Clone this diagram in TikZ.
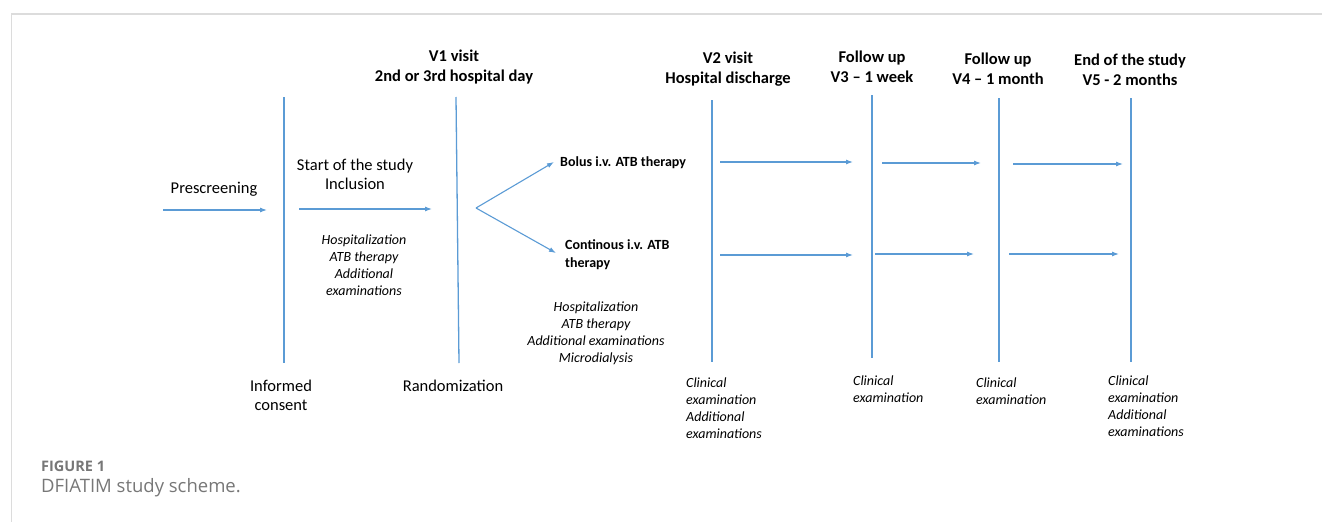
\documentclass[tikz,border=0pt]{standalone}
\usepackage{fontspec}
\setmainfont{Carlito}
\newfontfamily\capfont{Open Sans}
\usetikzlibrary{arrows.meta}
\definecolor{lineblue}{HTML}{5B9BD5}
\definecolor{framegray}{HTML}{DCDCDC}
\definecolor{capgray}{HTML}{777777}
\tikzset{
  vline/.style={draw=lineblue, line width=1.3pt},
  flow/.style={draw=lineblue, line width=1.1pt, -{Latex[length=7pt,width=5pt]}},
  head/.style={font=\fontsize{16.5}{20}\selectfont\bfseries, align=center, inner sep=0pt},
  lab/.style={font=\fontsize{16.5}{19}\selectfont, align=center, inner sep=0pt},
  arm/.style={font=\fontsize{14}{18}\selectfont\bfseries, align=left, inner sep=0pt, anchor=west},
  note/.style={font=\fontsize{14}{17}\selectfont\itshape, align=center, inner sep=0pt},
  lnote/.style={font=\fontsize{14}{17}\selectfont\itshape, align=left, inner sep=0pt, anchor=west},
}
\begin{document}
\begin{tikzpicture}[x=1pt,y=-1pt]
\useasboundingbox (0,0) rectangle (1322,522);
% frame
\draw[framegray, line width=2pt] (11,14) -- (1322,14);
\draw[framegray, line width=1pt] (11,14) -- (11,522);
% vertical lines
\coordinate (l0t) at (284,97);  \coordinate (l0b) at (284,363);
\coordinate (l1t) at (456,97);  \coordinate (l1b) at (459,363);
\coordinate (l2t) at (712,100); \coordinate (l2b) at (712,362);
\coordinate (l3t) at (872,95);  \coordinate (l3b) at (872,358);
\coordinate (l4t) at (999,98);  \coordinate (l4b) at (999,362);
\coordinate (l5t) at (1131,98); \coordinate (l5b) at (1131,362);
\foreach \i in {0,...,5} { \draw[vline] (l\i t) -- (l\i b); }
% headers
\node[head] (h1) at (454,67) {V1 visit\\2nd or 3rd hospital day};
\node[head] (h2) at (728,69) {V2 visit\\Hospital discharge};
\node[head] (h3) at (872,67) {Follow up\\V3 -- 1 week};
\node[head] (h4) at (998,69) {Follow up\\V4 -- 1 month};
\node[head] (h5) at (1130,70) {End of the study\\V5 - 2 months};
% left part
\node[lab] (pre) at (214,189) {Prescreening};
\node[lab] (start) at (355,174.5) {Start of the study\\Inclusion};
\node[note] (n1) at (364,265) {Hospitalization\\ATB therapy\\Additional\\examinations};
\node[lab] (ic) at (281,395.5) {Informed\\consent};
\node[lab] (rand) at (453,386) {Randomization};
\coordinate (a0s) at (163,210); \coordinate (a0e) at (267,210);
\coordinate (a1s) at (299,209); \coordinate (a1e) at (432,209);
\draw[flow] (a0s) -- (a0e);
\draw[flow] (a1s) -- (a1e);
% branching
\coordinate (br) at (476,208);
\coordinate (bu) at (554,162);
\coordinate (bd) at (556,253);
\draw[flow] (br) -- (bu);
\draw[flow] (br) -- (bd);
\node[arm] (bolus) at (560,163) {Bolus i.v. ATB therapy};
\node[arm] (cont) at (565,255) {Continous i.v. ATB\\therapy};
\node[note] (n2) at (596,333.5) {Hospitalization\\ATB therapy\\Additional examinations\\Microdialysis};
% rows of arrows
\coordinate (r1a) at (720,162); \coordinate (r1b) at (853,162);
\coordinate (r1c) at (882,163); \coordinate (r1d) at (981,163);
\coordinate (r1e) at (1013,164); \coordinate (r1f) at (1123,164);
\coordinate (r2a) at (720,255); \coordinate (r2b) at (853,255);
\coordinate (r2c) at (875,254); \coordinate (r2d) at (974,254);
\coordinate (r2e) at (1009,254); \coordinate (r2f) at (1119,254);
\draw[flow] (r1a) -- (r1b);
\draw[flow] (r1c) -- (r1d);
\draw[flow] (r1e) -- (r1f);
\draw[flow] (r2a) -- (r2b);
\draw[flow] (r2c) -- (r2d);
\draw[flow] (r2e) -- (r2f);
% bottom notes
\node[lnote] (c2) at (686,408.5) {Clinical\\examination\\Additional\\examinations};
\node[lnote] (c3) at (853,389.5) {Clinical\\examination};
\node[lnote] (c4) at (976,391.5) {Clinical\\examination};
\node[lnote] (c5) at (1108,406.5) {Clinical\\examination\\Additional\\examinations};
% caption
\node[anchor=west, inner sep=0pt, text=capgray, font=\capfont\fontsize{14.5}{16}\selectfont\bfseries] (fig) at (41,466) {FIGURE 1};
\node[anchor=west, inner sep=0pt, text=capgray, font=\capfont\fontsize{18.5}{21}\selectfont] (cap) at (41,488) {DFIATIM study scheme.};
\end{tikzpicture}
\end{document}
